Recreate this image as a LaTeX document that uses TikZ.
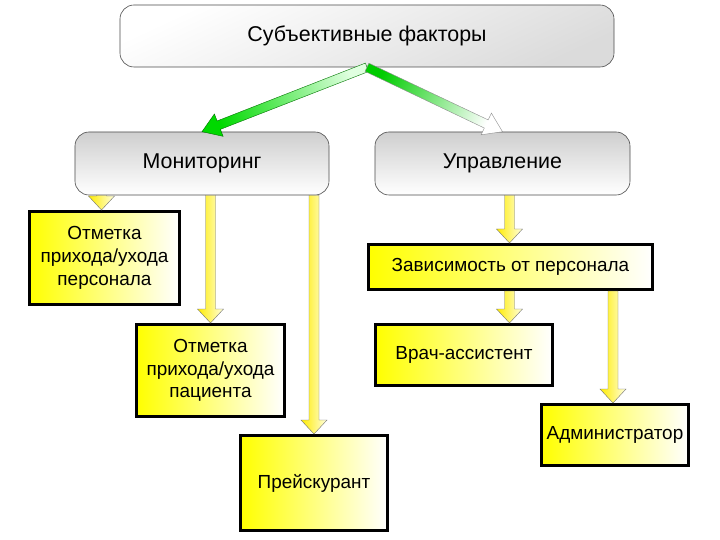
\documentclass[tikz,border=0pt]{standalone}
\usepackage{fontspec}
\setmainfont{Liberation Sans}
\usetikzlibrary{calc}
\tikzset{
  graybox/.style={draw=black!70, line width=0.6bp, rounded corners=14bp,
    top color=gray!38, bottom color=white, inner sep=0pt,
    font=\fontsize{21.5}{25}\selectfont},
  topbox/.style={graybox, top color=white, bottom color=gray!28, shading angle=25},
  yelbox/.style={draw=black, line width=3bp, inner sep=0pt, align=center,
    left color=yellow, middle color=yellow!55, right color=white,
    font=\fontsize{19}{22.8}\selectfont},
  yarrow/.style={draw=black!55, line width=0.4bp, left color=yellow!85!orange, right color=yellow!12},
  garrowA/.style={draw=green!45!black, line width=0.4bp, top color=green!85!black, bottom color=green!12, shading angle=111.5},
  garrowB/.style={draw=black!45, line width=0.4bp, top color=white, bottom color=green!80!black, shading angle=-115.6},
}
\newcommand\yarr[2]{%
  \path[yarrow] ($(#1)+(-5,0)$) -- ($(#2)+(-5,14)$) -- ($(#2)+(-13,14)$) -- (#2)
    -- ($(#2)+(13,14)$) -- ($(#2)+(5,14)$) -- ($(#1)+(5,0)$) -- cycle;}
\newcommand\garr[3]{%
  \coordinate (gh) at ($(#2)!18bp!(#1)$);
  \path[#3] ($(#1)!4.5bp!90:(#2)$) -- ($(gh)!4.5bp!-90:(#1)$) -- ($(gh)!12bp!-90:(#1)$) -- (#2)
    -- ($(gh)!12bp!90:(#1)$) -- ($(gh)!4.5bp!90:(#1)$) -- ($(#1)!4.5bp!-90:(#2)$) -- cycle;}
\begin{document}
\begin{tikzpicture}[x=1bp,y=1bp]
\useasboundingbox (0,0) rectangle (720,-540);
\fill[white] (0,0) rectangle (720,-540);
% gray boxes
\node[topbox, minimum width=494bp, minimum height=62bp] (top) at (367,-36) {Субъективные факторы};
\node[graybox, minimum width=254bp, minimum height=63bp] (mon) at (202,-163.5) {Мониторинг};
\node[graybox, minimum width=255bp, minimum height=63bp] (upr) at (502.5,-163.5) {Управление};
% yellow boxes
\node[yelbox, minimum width=150bp, minimum height=93bp] (b1) at (104.5,-258) {Отметка\\прихода/ухода\\персонала};
\node[yelbox, minimum width=148bp, minimum height=92bp] (b2) at (210.5,-370.5) {Отметка\\прихода/ухода\\пациента};
\node[yelbox, minimum width=147bp, minimum height=95bp] (b3) at (314,-483) {Прейскурант};
\node[yelbox, minimum width=284bp, minimum height=45bp] (dep) at (510.5,-267) {Зависимость от персонала};
\node[yelbox, minimum width=177bp, minimum height=61bp] (vr) at (464,-355) {Врач-ассистент};
\node[yelbox, minimum width=147bp, minimum height=61bp] (adm) at (615,-435) {Администратор};
% green arrows
\garr{top.south}{mon.north}{garrowA}
\garr{top.south}{upr.north}{garrowB}
% yellow arrows
\coordinate (s1) at ([xshift=-3bp]b1.north |- mon.south);
\coordinate (e1) at ([xshift=-3bp]b1.north);
\yarr{s1}{e1}
\coordinate (s2) at (b2.north |- mon.south);
\yarr{s2}{b2.north}
\coordinate (s3) at (b3.north |- mon.south);
\yarr{s3}{b3.north}
\coordinate (s4) at ([xshift=-1bp]dep.north |- upr.south);
\coordinate (e4) at ([xshift=-1bp]dep.north);
\yarr{s4}{e4}
\coordinate (e5) at ([xshift=-1bp]dep.south |- vr.north);
\coordinate (s5) at ([xshift=-1bp]dep.south);
\yarr{s5}{e5}
\coordinate (s6) at ([xshift=-2bp]adm.north |- dep.south);
\coordinate (e6) at ([xshift=-2bp]adm.north);
\yarr{s6}{e6}
\end{tikzpicture}
\end{document}
